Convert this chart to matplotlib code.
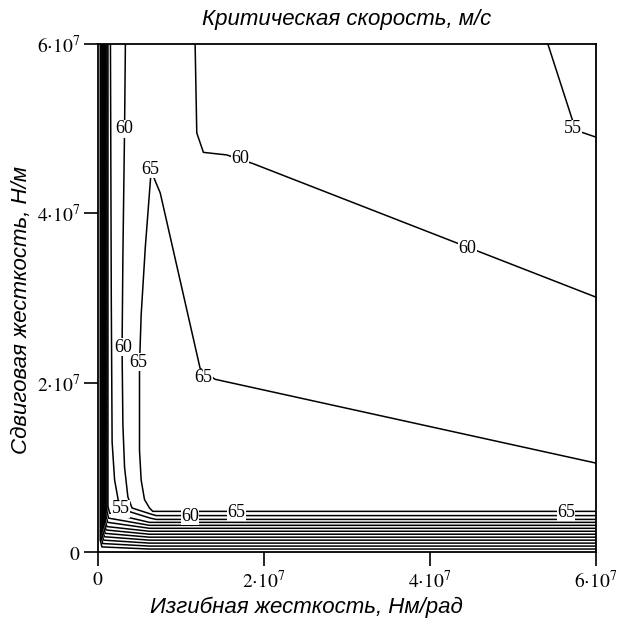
import matplotlib
matplotlib.use("Agg")
import matplotlib.pyplot as plt
import numpy as np

plt.rcParams['mathtext.fontset'] = 'stix'

SC = 1e7  # all coordinates below are in units of 1e7

# contour "65": bottom shelf + tongue + right slope
c65_x = [6.0, 0.66, 0.62, 0.56, 0.52, 0.50, 0.50, 0.52, 0.57, 0.64, 0.75, 1.23, 1.41, 6.0]
c65_y = [0.48, 0.48, 0.52, 0.62, 0.85, 1.2, 2.2, 2.8, 3.6, 4.5, 4.24, 2.17, 2.04, 1.05]

# contour "60": left L-shape
c60a_x = [0.33, 0.32, 0.30, 0.29, 0.30, 0.32, 0.36, 0.41, 0.63, 0.70, 6.0]
c60a_y = [6.0, 5.0, 3.5, 2.4, 1.5, 1.0, 0.65, 0.52, 0.45, 0.43, 0.43]

# contour "60": upper right
c60b_x = [1.17, 1.19, 1.27, 1.55, 1.86, 6.0]
c60b_y = [6.0, 4.95, 4.72, 4.69, 4.59, 3.01]

# contour "55": left L-shape
c55a_x = [0.15, 0.16, 0.17, 0.20, 0.25, 0.27, 0.63, 0.70, 6.0]
c55a_y = [6.0, 3.0, 1.3, 0.85, 0.58, 0.51, 0.40, 0.385, 0.385]

# contour "55": top right corner
c55b_x = [5.42, 5.71, 5.76, 6.0]
c55b_y = [6.0, 5.12, 4.98, 4.9]

# lower levels along the two edges
low_levels = [50, 45, 40, 35, 30, 25, 20, 15, 10, 5]
low_xv = [0.12, 0.108, 0.097, 0.087, 0.077, 0.067, 0.057, 0.047, 0.037, 0.027]
low_yl = [0.46, 0.40, 0.35, 0.30, 0.26, 0.22, 0.18, 0.14, 0.10, 0.06]
low_yh = [0.35, 0.315, 0.28, 0.245, 0.21, 0.175, 0.14, 0.105, 0.07, 0.035]

labels = ["60", "60", "60", "55", "65", "60", "65", "65", "55", "60", "65", "65"]
label_x = [0.31, 1.71, 4.45, 5.72, 0.63, 0.30, 0.48, 1.27, 0.27, 1.11, 1.67, 5.64]
label_y = [5.0, 4.65, 3.59, 5.0, 4.52, 2.42, 2.24, 2.06, 0.51, 0.42, 0.47, 0.47]

fig = plt.figure(figsize=(6.22, 6.32), dpi=100)
ax = fig.add_axes([98 / 622, 1 - 552 / 632, 498 / 622, 508 / 632])

lw = 1.1
for xs, ys in [(c65_x, c65_y), (c60a_x, c60a_y), (c60b_x, c60b_y),
               (c55a_x, c55a_y), (c55b_x, c55b_y)]:
    ax.plot(np.array(xs) * SC, np.array(ys) * SC, color='black', lw=lw)

for xv, yl, yh in zip(low_xv, low_yl, low_yh):
    xs = np.array([xv, xv, xv + 0.02, 0.62, 6.0]) * SC
    ys = np.array([6.0, yl + 0.08, yl, yh, yh]) * SC
    ax.plot(xs, ys, color='black', lw=lw)

for t, x, y in zip(labels, label_x, label_y):
    ax.text(x * SC, y * SC, t, ha='center', va='center', fontsize=13,
            family='Liberation Serif',
            bbox=dict(facecolor='white', edgecolor='none', pad=0.2))

ax.set_xlim(0, 6e7)
ax.set_ylim(0, 6e7)
ticks = [0, 2e7, 4e7, 6e7]
tick_text = ['$0$', r'$2{\cdot}10^7$', r'$4{\cdot}10^7$', r'$6{\cdot}10^7$']
ax.set_xticks(ticks)
ax.set_xticklabels(tick_text)
ax.set_yticks(ticks)
ax.set_yticklabels(tick_text)
ax.tick_params(direction='out', length=10, width=1.2, labelsize=14, pad=3)
for s in ax.spines.values():
    s.set_linewidth(1.3)

font = dict(fontsize=16, style='italic', family='Liberation Sans')
fig.text(347 / 622, 1 - 19 / 632, 'Критическая скорость, м/с',
         ha='center', va='center', **font)
fig.text(306 / 622, 1 - 607 / 632, 'Изгибная жесткость, Нм/рад',
         ha='center', va='center', **font)
fig.text(22 / 622, 1 - 310 / 632, 'Сдвиговая жесткость, Н/м',
         ha='center', va='center', rotation=90, **font)

fig.savefig('out.png', dpi=100)
